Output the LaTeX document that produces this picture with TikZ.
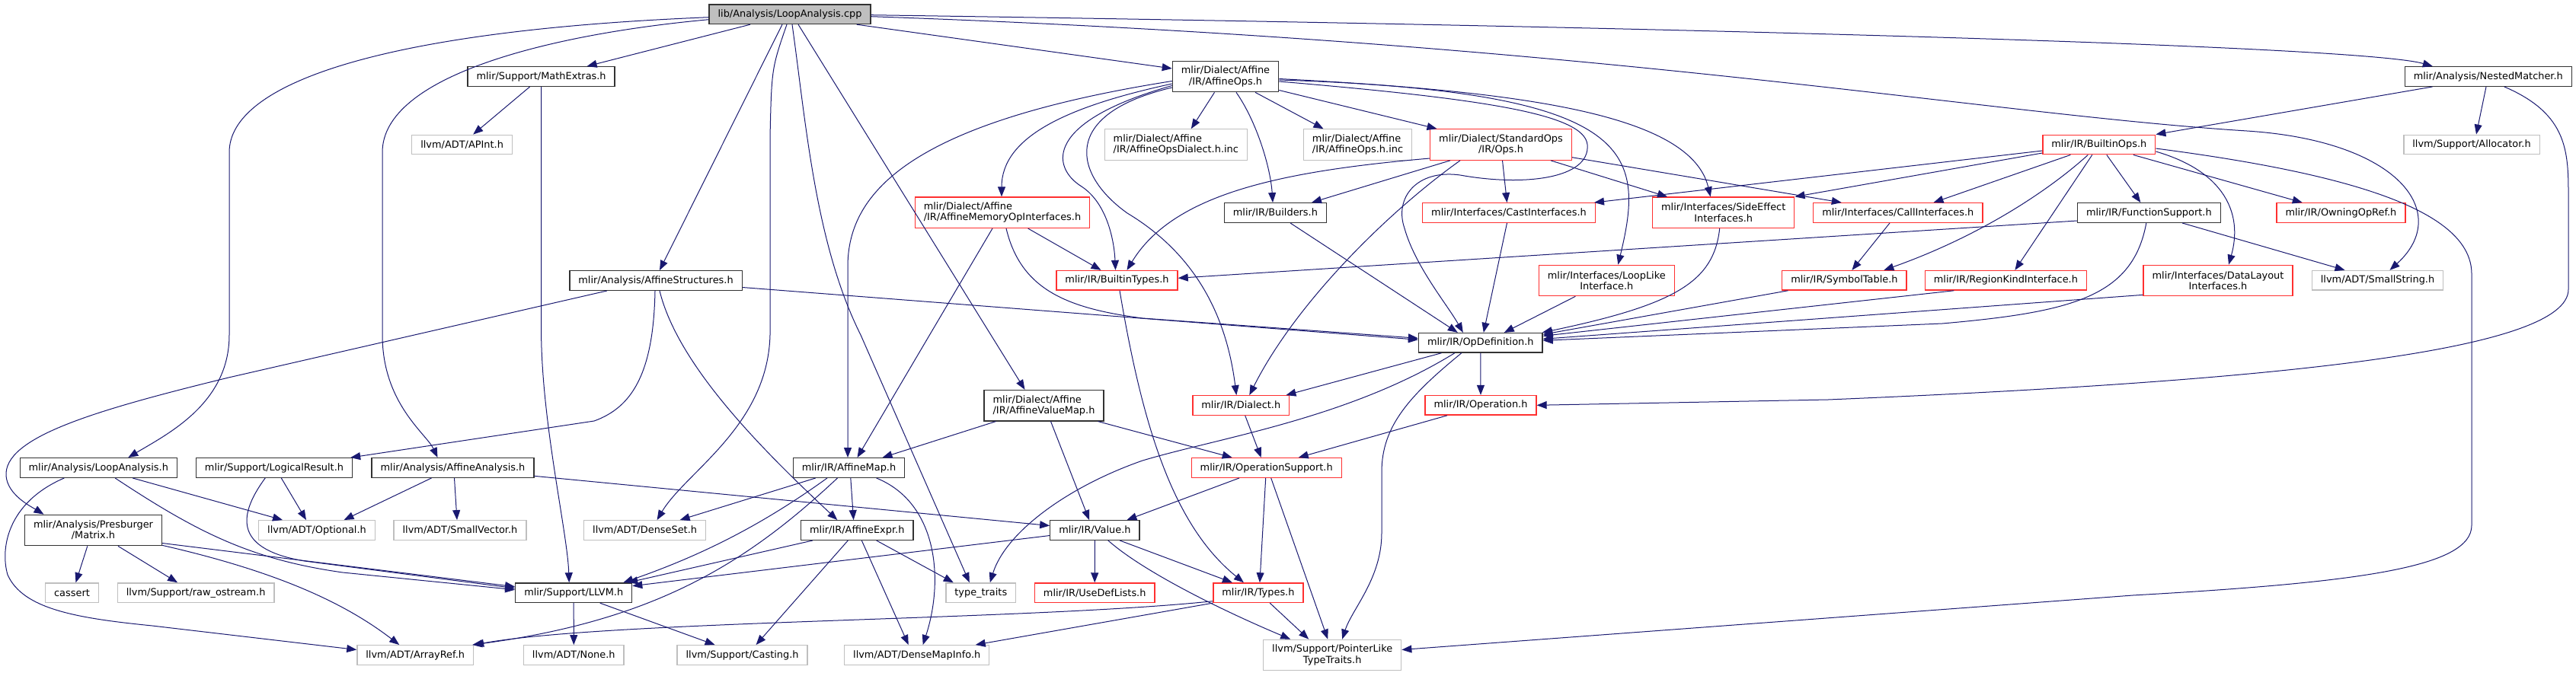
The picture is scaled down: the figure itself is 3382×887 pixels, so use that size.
\documentclass[tikz,border=0pt]{standalone}
\usepackage{fontspec}
\setmainfont{DejaVu Sans}
\usepackage{tikz}
\usetikzlibrary{arrows.meta}

\definecolor{edgeblue}{HTML}{191970}
\definecolor{hdrblack}{HTML}{333333}
\definecolor{truncred}{HTML}{FF3030}
\definecolor{extgray}{HTML}{BFBFBF}

\begin{document}
\begin{tikzpicture}[x=1pt,y=-1pt,
  every node/.style={font=\fontsize{12.9}{14.3}\selectfont, inner xsep=11.5pt, inner ysep=2pt, minimum height=25.6pt},
  rootnode/.style={draw=hdrblack, fill=extgray, line width=1.3pt},
  hdrnode/.style={draw=hdrblack, line width=1.3pt},
  truncnode/.style={draw=truncred, line width=1.3pt},
  extnode/.style={draw=extgray, line width=1.3pt},
  twoline/.style={minimum height=40.4pt, align=center},
  twoleft/.style={minimum height=40.4pt, align=left},
  dep/.style={draw=edgeblue, line width=1pt, -{Triangle[length=13pt,width=10pt]}}]

\useasboundingbox (0,0) rectangle (3382,887);

% --- Rank 1 ---
\node[rootnode] (root) at (1037,18.7) {lib/Analysis/LoopAnalysis.cpp};

% --- Rank 2 ---
\node[hdrnode] (mathx) at (710.6,100.5) {mlir/Support/MathExtras.h};
\node[hdrnode,twoline] (affops) at (1609,100.5) {mlir/Dialect/Affine\\/IR/AffineOps.h};
\node[hdrnode] (nested) at (3266.8,100.5) {mlir/Analysis/NestedMatcher.h};

% --- Rank 3 ---
\node[extnode] (apint) at (606.6,190) {llvm/ADT/APInt.h};
\node[extnode,twoleft] (affdialinc) at (1543.8,190) {mlir/Dialect/Affine\\/IR/AffineOpsDialect.h.inc};
\node[extnode,twoleft] (affopsinc) at (1782.5,190) {mlir/Dialect/Affine\\/IR/AffineOps.h.inc};
\node[truncnode,twoline] (stdops) at (1970.5,190) {mlir/Dialect/StandardOps\\/IR/Ops.h};
\node[truncnode] (builtinops) at (2755.8,190) {mlir/IR/BuiltinOps.h};
\node[extnode] (allocator) at (3245,190) {llvm/Support/Allocator.h};

% --- Rank 4 ---
\node[truncnode,twoleft] (memopifc) at (1316,279.2) {mlir/Dialect/Affine\\/IR/AffineMemoryOpInterfaces.h};
\node[hdrnode] (builders) at (1674.4,279.5) {mlir/IR/Builders.h};
\node[truncnode] (castifc) at (1981,279.5) {mlir/Interfaces/CastInterfaces.h};
\node[truncnode,twoline] (sideeff) at (2262.7,279.3) {mlir/Interfaces/SideEffect\\Interfaces.h};
\node[truncnode] (callifc) at (2491.8,279.5) {mlir/Interfaces/CallInterfaces.h};
\node[hdrnode] (funcsupp) at (2821.3,279.5) {mlir/IR/FunctionSupport.h};
\node[truncnode] (owning) at (3073.4,279.5) {mlir/IR/OwningOpRef.h};

% --- Rank 5 ---
\node[hdrnode] (affstruct) at (861,368.5) {mlir/Analysis/AffineStructures.h};
\node[truncnode] (builtintypes) at (1466.5,368.3) {mlir/IR/BuiltinTypes.h};
\node[truncnode,twoline] (looplike) at (2109.3,368.5) {mlir/Interfaces/LoopLike\\Interface.h};
\node[truncnode] (symtab) at (2421.4,368.3) {mlir/IR/SymbolTable.h};
\node[truncnode] (regionkind) at (2633.4,368.3) {mlir/IR/RegionKindInterface.h};
\node[truncnode,twoline] (datalayout) at (2912,368.5) {mlir/Interfaces/DataLayout\\Interfaces.h};
\node[extnode] (smallstring) at (3121.5,368.3) {llvm/ADT/SmallString.h};

% --- Rank 6 ---
\node[hdrnode] (opdef) at (1943.8,450.3) {mlir/IR/OpDefinition.h};

% --- Rank 7 ---
\node[hdrnode,twoleft] (affvalmap) at (1370.5,532.7) {mlir/Dialect/Affine\\/IR/AffineValueMap.h};
\node[truncnode] (dialect) at (1629.3,532.5) {mlir/IR/Dialect.h};
\node[truncnode] (operation) at (1944,532.3) {mlir/IR/Operation.h};

% --- Rank 8 ---
\node[hdrnode] (loopanah) at (129.3,614.5) {mlir/Analysis/LoopAnalysis.h};
\node[hdrnode] (logical) at (360,614.5) {mlir/Support/LogicalResult.h};
\node[hdrnode] (affana) at (594.5,614.5) {mlir/Analysis/AffineAnalysis.h};
\node[hdrnode] (affmap) at (1114.5,614.5) {mlir/IR/AffineMap.h};
\node[truncnode] (opsupport) at (1662.7,614.5) {mlir/IR/OperationSupport.h};

% --- Rank 9 ---
\node[hdrnode,twoline] (presb) at (122.5,696.5) {mlir/Analysis/Presburger\\/Matrix.h};
\node[extnode] (optional) at (416,696.5) {llvm/ADT/Optional.h};
\node[extnode] (smallvec) at (604,696.5) {llvm/ADT/SmallVector.h};
\node[extnode] (denseset) at (846.6,696.5) {llvm/ADT/DenseSet.h};
\node[hdrnode] (affexpr) at (1125.3,696.5) {mlir/IR/AffineExpr.h};
\node[hdrnode] (valueh) at (1437.4,696.5) {mlir/IR/Value.h};

% --- Rank 10 ---
\node[extnode] (cassert) at (94.5,778.7) {cassert};
\node[extnode] (rawos) at (257.1,778.7) {llvm/Support/raw\_ostream.h};
\node[hdrnode] (llvmh) at (753.2,778.7) {mlir/Support/LLVM.h};
\node[extnode] (typetraits) at (1287.8,778.7) {type\_traits};
\node[truncnode] (usedef) at (1437.2,778.7) {mlir/IR/UseDefLists.h};
\node[truncnode] (typesh) at (1651.9,778.7) {mlir/IR/Types.h};

% --- Rank 11 ---
\node[extnode] (arrayref) at (545.2,860.5) {llvm/ADT/ArrayRef.h};
\node[extnode] (noneh) at (753.3,860.5) {llvm/ADT/None.h};
\node[extnode] (casting) at (974.6,860.5) {llvm/Support/Casting.h};
\node[extnode] (densemapinfo) at (1203.7,860.5) {llvm/ADT/DenseMapInfo.h};
\node[extnode,twoline] (ptrlike) at (1749.2,860.5) {llvm/Support/PointerLike\\TypeTraits.h};

% --- from the source file ---
\draw[dep] ([yshift=-4pt]root.west) .. controls (500,40) and (301,110) .. (301,200) -- (301,440) .. controls (301,530) and (220,570) .. ([xshift=39pt]loopanah.north);
\draw[dep] ([yshift=-7pt]root.west) .. controls (720,45) and (502,100) .. (502,200) -- (502,440) .. controls (502,530) and (560,570) .. ([xshift=-20pt]affana.north);
\draw[dep] ([xshift=-52pt]root.south) -- ([xshift=60pt]mathx.north);
\draw[dep] ([xshift=-10pt]root.south) -- ([xshift=5pt]affstruct.north);
\draw[dep] ([xshift=-4pt]root.south) .. controls (1013,90) .. (1011,180) -- (1011,440) .. controls (1008,560) and (900,620) .. ([xshift=16pt]denseset.north);
\draw[dep] ([xshift=3pt]root.south) .. controls (1058,160) and (1070,320) .. (1130,440) -- ([xshift=-15pt]typetraits.north);
\draw[dep] ([xshift=11pt]root.south) -- ([xshift=-25pt]affvalmap.north);
\draw[dep] ([xshift=-19pt]root.south east) -- ([yshift=10.5pt]affops.west);
\draw[dep] ([yshift=-1pt]root.east) .. controls (2200,35) and (3100,60) .. ([xshift=-73pt]nested.north);
\draw[dep] ([yshift=-3pt]root.east) .. controls (2100,55) and (2600,150) .. (2950,172) .. controls (3150,185) and (3220,280) .. ([xshift=16pt]smallstring.north);

% --- AffineStructures.h ---
\draw[dep] ([xshift=-64pt]affstruct.south) -- (300,496) .. controls (120,540) and (5,575) .. (8,625) .. controls (10,650) and (40,665) .. ([xshift=-65pt]presb.north);
\draw[dep] ([xshift=-1pt]affstruct.south) .. controls (858,490) and (830,535) .. (780,553) -- ([xshift=-3pt]logical.north east);
\draw[dep] ([xshift=5pt]affstruct.south) .. controls (890,480) and (1000,590) .. ([xshift=-26pt]affexpr.north);
\draw[dep] ([yshift=-9pt]affstruct.east) -- ([yshift=4pt]opdef.west);

% --- MathExtras.h ---
\draw[dep] ([xshift=-15pt]mathx.south) -- ([xshift=14.6pt]apint.north);
\draw[dep] (mathx.south) -- (710.6,440) .. controls (712,560) and (745,700) .. ([xshift=-6pt]llvmh.north);

% --- AffineOps.h ---
\draw[dep] ([yshift=-6pt]affops.west) .. controls (1200,160) and (1113,250) .. (1113,350) -- ([xshift=-1.5pt]affmap.north);
\draw[dep] ([yshift=-9.5pt]affops.west) .. controls (1400,140) and (1315,180) .. ([xshift=-1pt]memopifc.north);
\draw[dep] ([yshift=-12pt]affops.west) .. controls (1370,160) and (1380,220) .. (1420,245) .. controls (1455,268) and (1463,320) .. ([xshift=-2pt]builtintypes.north);
\draw[dep] ([yshift=-14.5pt]affops.west) .. controls (1390,150) and (1410,230) .. (1480,280) .. controls (1580,340) and (1612,430) .. ([xshift=-6pt]dialect.north);
\draw[dep] ([xshift=-14.5pt]affops.south) -- ([xshift=20pt]affdialinc.north);
\draw[dep] ([xshift=14pt]affops.south) .. controls (1650,160) and (1668,220) .. ([xshift=-3.4pt]builders.north);
\draw[dep] ([xshift=39pt]affops.south) -- ([xshift=-45pt]affopsinc.north);
\draw[dep] ([yshift=-18pt]affops.east) -- ([xshift=-84pt]stdops.north);
\draw[dep] ([yshift=-3pt]affops.east) .. controls (2000,120) and (2220,150) .. ([xshift=-17pt]sideeff.north);
\draw[dep] ([yshift=-4.5pt]affops.east) .. controls (2150,120) and (2160,200) .. ([xshift=15pt]looplike.north);
\draw[dep] ([yshift=-6.5pt]affops.east) .. controls (1950,130) and (2080,150) .. (2084,190) .. controls (2088,235) and (2000,245) .. (1917,230) .. controls (1860,222) and (1830,260) .. (1844,300) .. controls (1858,350) and (1900,400) .. ([xshift=-23pt]opdef.north);

% --- StandardOps/IR/Ops.h ---
\draw[dep] ([xshift=-66.6pt]stdops.south) -- ([xshift=47.6pt]builders.north);
\draw[dep] ([xshift=2pt]stdops.south) -- ([xshift=-2.5pt]castifc.north);
\draw[dep] ([xshift=65.4pt]stdops.south) -- ([xshift=-73.7pt]sideeff.north);
\draw[dep] ([yshift=-16.7pt]stdops.east) -- ([xshift=-74pt]callifc.north);
\draw[dep] ([yshift=-18pt]stdops.west) .. controls (1680,225) and (1540,255) .. ([xshift=13pt]builtintypes.north);
\draw[dep] ([xshift=-53.5pt]stdops.south) .. controls (1820,280) and (1700,400) .. ([xshift=11pt]dialect.north);

% --- BuiltinOps.h ---
\draw[dep] ([yshift=-8pt]builtinops.west) -- ([xshift=-2pt]castifc.north east);
\draw[dep] ([yshift=-11pt]builtinops.west) -- (sideeff.north east);
\draw[dep] ([xshift=-37.5pt]builtinops.south) -- ([xshift=46.7pt]callifc.north);
\draw[dep] ([xshift=-14.5pt]builtinops.south) .. controls (2690,250) and (2600,310) .. ([xshift=52pt]symtab.north);
\draw[dep] ([xshift=-9pt]builtinops.south) -- ([xshift=12pt]regionkind.north);
\draw[dep] ([xshift=10pt]builtinops.south) -- ([xshift=-11pt]funcsupp.north);
\draw[dep] ([xshift=45pt]builtinops.south) -- ([xshift=-50.7pt]owning.north);
\draw[dep] ([yshift=-9pt]builtinops.east) .. controls (2920,225) and (2945,280) .. ([xshift=14pt]datalayout.north);
\draw[dep] ([yshift=-5pt]builtinops.east) .. controls (3100,230) and (3245,280) .. (3245,360) -- (3245,690) .. controls (3245,745) and (3100,765) .. (2800,782) -- ([yshift=7pt]ptrlike.east);

% --- NestedMatcher.h ---
\draw[dep] ([xshift=-73.3pt]nested.south) -- (builtinops.north east);
\draw[dep] ([xshift=-2.8pt]nested.south) -- ([xshift=6pt]allocator.north);
\draw[dep] ([xshift=21pt]nested.south) .. controls (3372,150) and (3372,200) .. (3372,260) -- (3372,380) .. controls (3372,460) and (3000,500) .. (2400,525) -- (operation.east);

% --- interfaces and rank 4/5 headers ---
\draw[dep] ([xshift=3.5pt]builtintypes.south) .. controls (1500,560) and (1540,690) .. ([xshift=-19pt]typesh.north);
\draw[dep] ([xshift=19.6pt]builders.south) -- ([xshift=-30pt]opdef.north);
\draw[dep] ([xshift=-2.5pt]castifc.south) -- ([xshift=4pt]opdef.north);
\draw[dep] ([xshift=-5pt]sideeff.south) .. controls (2250,370) and (2200,400) .. ([xshift=-1pt]opdef.north east);
\draw[dep] ([xshift=-41pt]looplike.south) -- ([xshift=31pt]opdef.north);
\draw[dep] ([xshift=-10.8pt]callifc.south) -- ([xshift=10pt]symtab.north);
\draw[dep] ([yshift=-10.5pt]funcsupp.west) -- ([yshift=3pt]builtintypes.east);
\draw[dep] ([xshift=-3.5pt]funcsupp.south) .. controls (2800,390) and (2720,410) .. (2550,425) -- ([yshift=3pt]opdef.east);
\draw[dep] ([xshift=43.7pt]funcsupp.south) -- ([xshift=-43pt]smallstring.north);
\draw[dep] ([xshift=-74pt]symtab.south) -- ([yshift=11pt]opdef.east);
\draw[dep] ([xshift=-68pt]regionkind.south) -- ([yshift=9pt]opdef.east);
\draw[dep] ([yshift=2pt]datalayout.south west) -- ([yshift=5pt]opdef.east);
\draw[dep] ([xshift=33.6pt]memopifc.south) -- ([xshift=-21pt]builtintypes.north);
\draw[dep] ([xshift=-13pt]memopifc.south) -- ([xshift=11pt]affmap.north);
\draw[dep] ([xshift=5pt]memopifc.south) .. controls (1340,380) and (1400,405) .. (1500,418) -- ([yshift=6pt]opdef.west);

% --- OpDefinition.h and below ---
\draw[dep] ([xshift=-51.4pt]opdef.south) -- ([xshift=-5pt]dialect.north east);
\draw[dep] ([xshift=-34pt]opdef.south) .. controls (1770,550) and (1600,575) .. (1500,605) .. controls (1400,640) and (1320,700) .. ([xshift=12pt]typetraits.north);
\draw[dep] (opdef.south) -- (operation.north);
\draw[dep] ([xshift=-25pt]opdef.south) .. controls (1850,520) and (1814,560) .. (1814,620) -- (1814,700) .. controls (1814,760) and (1775,800) .. ([xshift=13pt]ptrlike.north);
\draw[dep] ([xshift=-63pt]affvalmap.south) -- ([xshift=44pt]affmap.north);
\draw[dep] ([xshift=9pt]affvalmap.south) -- ([xshift=-7.4pt]valueh.north);
\draw[dep] ([xshift=71pt]affvalmap.south) -- ([xshift=-45pt]opsupport.north);
\draw[dep] ([xshift=5.4pt]dialect.south) -- ([xshift=-7pt]opsupport.north);
\draw[dep] ([xshift=-44pt]operation.south) -- ([xshift=42pt]opsupport.north);

% --- OperationSupport.h, Value.h, Types.h ---
\draw[dep] ([xshift=-35.7pt]opsupport.south) -- ([xshift=42pt]valueh.north);
\draw[dep] ([xshift=-1pt]opsupport.south) -- ([xshift=2pt]typesh.north);
\draw[dep] ([xshift=6pt]opsupport.south) -- ([xshift=-6pt]ptrlike.north);
\draw[dep] (valueh.south) -- (usedef.north);
\draw[dep] ([xshift=32.7pt]valueh.south) -- ([xshift=-34pt]typesh.north);
\draw[dep] ([xshift=17.4pt]valueh.south) .. controls (1500,750) and (1600,800) .. ([xshift=-55pt]ptrlike.north);
\draw[dep] ([yshift=-7pt]valueh.west) -- ([yshift=9pt]llvmh.east);
\draw[dep] ([yshift=-11pt]typesh.west) .. controls (1350,815) and (800,815) .. (arrayref.north east);
\draw[dep] (typesh.south west) -- ([xshift=77pt]densemapinfo.north);
\draw[dep] ([xshift=15.3pt]typesh.south) -- ([xshift=-31pt]ptrlike.north);

% --- AffineMap.h, AffineExpr.h ---
\draw[dep] ([xshift=-43.7pt]affmap.south) -- ([xshift=46pt]denseset.north);
\draw[dep] ([xshift=-28.5pt]affmap.south) .. controls (1000,690) and (920,730) .. ([xshift=-12pt]llvmh.north east);
\draw[dep] ([xshift=-15pt]affmap.south) .. controls (980,740) and (860,815) .. ([xshift=-2pt]arrayref.north east);
\draw[dep] ([xshift=2.3pt]affmap.south) -- ([xshift=-4.7pt]affexpr.north);
\draw[dep] ([xshift=36pt]affmap.south) .. controls (1230,660) and (1240,760) .. ([xshift=8pt]densemapinfo.north);
\draw[dep] ([xshift=-58.3pt]affexpr.south) -- ([xshift=-6pt]llvmh.north east);
\draw[dep] ([xshift=25.3pt]affexpr.south) -- ([xshift=-36pt]typetraits.north);
\draw[dep] ([xshift=6pt]affexpr.south) -- ([xshift=-11pt]densemapinfo.north);
\draw[dep] ([xshift=-12pt]affexpr.south) -- ([xshift=18pt]casting.north);

% --- analysis headers on the left ---
\draw[dep] ([xshift=-28pt]affana.south) -- ([xshift=35.5pt]optional.north);
\draw[dep] ([xshift=2pt]affana.south) -- ([xshift=-4pt]smallvec.north);
\draw[dep] ([yshift=-10.8pt]affana.east) -- ([yshift=6pt]valueh.west);
\draw[dep] ([xshift=44.8pt]loopanah.south) -- ([xshift=-45pt]optional.north);
\draw[dep] ([xshift=21.8pt]loopanah.south) .. controls (260,700) and (330,735) .. (450,752) -- ([yshift=4pt]llvmh.west);
\draw[dep] ([xshift=-45pt]loopanah.south) .. controls (10,660) and (0,720) .. (10,755) .. controls (30,800) and (100,812) .. (200,822) -- ([yshift=7pt]arrayref.west);
\draw[dep] ([xshift=9.3pt]logical.south) -- ([xshift=-14pt]optional.north);
\draw[dep] ([xshift=-11.8pt]logical.south) .. controls (310,680) and (310,722) .. (400,737) -- ([yshift=6pt]llvmh.west);
\draw[dep] ([xshift=-7.7pt]presb.south) -- ([xshift=5pt]cassert.north);
\draw[dep] ([xshift=32.5pt]presb.south) -- ([xshift=-24pt]rawos.north);
\draw[dep] ([yshift=1pt]presb.south east) .. controls (360,750) and (450,790) .. ([xshift=-21pt]arrayref.north);
\draw[dep] ([yshift=-17pt]presb.east) -- ([yshift=8pt]llvmh.west);

% --- LLVM.h ---
\draw[dep] (llvmh.south) -- (noneh.north);
\draw[dep] ([xshift=34.5pt]llvmh.south) -- ([xshift=-36pt]casting.north);

\end{tikzpicture}
\end{document}
